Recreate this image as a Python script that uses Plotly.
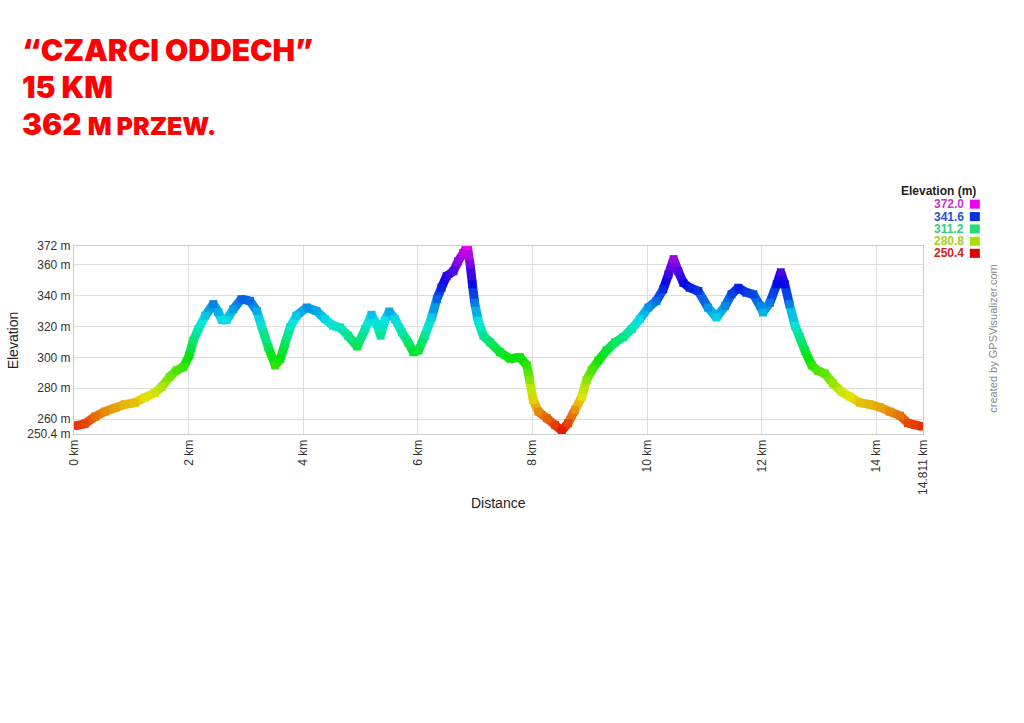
import colorsys
import plotly.graph_objects as go

# ---------------- data ----------------
dist_km = [0.02, 0.19, 0.37, 0.54, 0.72, 0.89, 1.06, 1.24, 1.41, 1.53, 1.67, 1.79, 1.91, 2.01,
           2.08, 2.17, 2.29, 2.43, 2.52, 2.58, 2.66, 2.78, 2.92, 3.07, 3.19, 3.27, 3.39, 3.51,
           3.60, 3.68, 3.77, 3.88, 4.06, 4.23, 4.38, 4.52, 4.64, 4.78, 4.94, 5.08, 5.19, 5.28,
           5.35, 5.42, 5.50, 5.60, 5.72, 5.83, 5.92, 6.01, 6.12, 6.24, 6.33, 6.41, 6.50, 6.62,
           6.70, 6.79, 6.86, 6.91, 6.95, 6.99, 7.05, 7.14, 7.26, 7.43, 7.61, 7.78, 7.90, 7.95,
           8.01, 8.10, 8.25, 8.39, 8.51, 8.62, 8.74, 8.86, 8.94, 9.03, 9.15, 9.29, 9.44, 9.58,
           9.73, 9.87, 10.02, 10.16, 10.28, 10.37, 10.46, 10.54, 10.63, 10.74, 10.89, 11.06,
           11.21, 11.36, 11.47, 11.59, 11.73, 11.85, 11.97, 12.02, 12.14, 12.26, 12.33, 12.40,
           12.48, 12.58, 12.66, 12.75, 12.87, 12.98, 13.10, 13.24, 13.39, 13.54, 13.71, 13.88,
           14.06, 14.23, 14.41, 14.55, 14.67, 14.79]
elev_m = [255.7, 257.0, 261.7, 264.9, 267.4, 269.6, 270.6, 274.1, 277.0, 280.9, 287.3, 291.6, 293.7, 301.2,
          310.8, 318.3, 326.9, 334.4, 329.0, 324.1, 324.1, 331.2, 337.6, 336.5, 330.0, 320.4, 306.5, 294.8,
          299.0, 308.7, 319.4, 326.9, 332.2, 330.0, 324.7, 320.4, 319.4, 314.0, 307.0, 318.3, 327.5, 321.5,
          314.0, 323.7, 329.6, 324.7, 316.2, 309.7, 303.3, 304.4, 314.0, 325.8, 337.6, 345.0, 352.5, 355.7,
          362.1, 367.4, 372.0, 360.0, 347.2, 335.4, 323.7, 314.0, 309.7, 303.3, 299.1, 300.1, 294.8, 285.2,
          272.4, 264.9, 260.6, 256.3, 252.7, 257.4, 266.0, 274.5, 285.2, 291.6, 298.0, 304.4, 309.7, 313.0,
          318.3, 324.7, 332.2, 336.5, 344.0, 353.6, 363.5, 355.7, 348.2, 345.0, 342.9, 332.2,
          325.8, 333.3, 340.8, 345.0, 341.8, 340.8, 333.3, 329.0, 335.4, 347.2, 355.0, 347.2,
          334.4, 320.4, 313.0, 304.4, 294.8, 291.2, 289.5, 283.1, 277.7, 274.5, 270.6, 269.6,
          267.7, 264.9, 262.3, 257.4, 256.3, 255.3]

x_tick_vals = [0, 2, 4, 6, 8, 10, 12, 14, 14.811]
x_tick_text = ["0 km", "2 km", "4 km", "6 km", "8 km", "10 km", "12 km", "14 km", "14.811 km"]
y_tick_vals = [250.4, 260, 280, 300, 320, 340, 360, 372]
y_tick_text = ["250.4 m", "260 m", "280 m", "300 m", "320 m", "340 m", "360 m", "372 m"]
legend_vals = ["372.0", "341.6", "311.2", "280.8", "250.4"]
legend_text_colors = ["#cc33cc", "#2255cc", "#33cc77", "#aacc22", "#cc2222"]
legend_box_colors = ["#ee00ee", "#0033dd", "#22dd77", "#aadd00", "#dd0000"]

E_MIN, E_MAX = 250.4, 372.0
D_MAX = 14.811


def elev_color(e):
    t = max(0.0, min(1.0, (e - E_MIN) / (E_MAX - E_MIN)))
    r, g, b = colorsys.hsv_to_rgb(t * 300.0 / 360.0, 0.97, 0.9)
    return "rgb(%d,%d,%d)" % (int(r * 255), int(g * 255), int(b * 255))


# pixel geometry of the plot area
X0, X1, Y0, Y1 = 74.0, 922.7, 433.3, 246.0
W, H = 1024, 723


def px(x):
    return (x - X0) / (X1 - X0)


def py(y):
    return (Y0 - y) / (Y0 - Y1)


fig = go.Figure()

for i in range(len(dist_km) - 1):
    fig.add_trace(go.Scatter(
        x=[dist_km[i], dist_km[i + 1]], y=[elev_m[i], elev_m[i + 1]],
        mode="lines", line=dict(color=elev_color((elev_m[i] + elev_m[i + 1]) / 2), width=9),
        hoverinfo="skip", showlegend=False))

fig.add_trace(go.Scatter(
    x=dist_km, y=elev_m, mode="markers",
    marker=dict(symbol="square", size=8, color=[elev_color(e) for e in elev_m], line=dict(width=0)),
    hoverinfo="skip", showlegend=False))

axis_font = dict(family="Liberation Sans, Arial, sans-serif", size=12, color="#333333")

fig.update_xaxes(range=[0, D_MAX], tickvals=x_tick_vals, ticktext=x_tick_text, tickangle=-90,
                 showgrid=True, gridcolor="#dddddd", gridwidth=1, zeroline=False,
                 showline=True, linecolor="#cccccc", linewidth=1, mirror=True,
                 tickfont=axis_font, ticks="", fixedrange=True)
fig.update_yaxes(range=[E_MIN, E_MAX], tickvals=y_tick_vals, ticktext=y_tick_text,
                 showgrid=True, gridcolor="#dddddd", gridwidth=1, zeroline=False,
                 showline=True, linecolor="#cccccc", linewidth=1, mirror=True,
                 tickfont=axis_font, ticks="", fixedrange=True)

annotations = []
title_font = dict(family="Inter, DejaVu Sans, sans-serif", size=30, color="#ff0000", weight=900)
annotations.append(dict(text="\u201cCZARCI ODDECH\u201d", x=px(20), y=py(51), xref="paper", yref="paper",
                        xanchor="left", yanchor="middle", showarrow=False, font=title_font))
annotations.append(dict(text="15 KM", x=px(20), y=py(87.5), xref="paper", yref="paper",
                        xanchor="left", yanchor="middle", showarrow=False, font=title_font))
annotations.append(dict(text="362 <span style=\"font-size:25px\">M PRZEW.</span>", x=px(20), y=py(124),
                        xref="paper", yref="paper", xanchor="left", yanchor="middle", showarrow=False,
                        font=title_font))

annotations.append(dict(text="Elevation", x=px(13), y=py(340), xref="paper", yref="paper", textangle=-90,
                        xanchor="center", yanchor="middle", showarrow=False,
                        font=dict(family="Liberation Sans, Arial, sans-serif", size=14, color="#222222")))
annotations.append(dict(text="Distance", x=px(498), y=py(502), xref="paper", yref="paper",
                        xanchor="center", yanchor="middle", showarrow=False,
                        font=dict(family="Liberation Sans, Arial, sans-serif", size=14, color="#222222")))
annotations.append(dict(text="created by GPSVisualizer.com", x=px(993), y=py(338), xref="paper", yref="paper",
                        textangle=-90, xanchor="center", yanchor="middle", showarrow=False,
                        font=dict(family="Liberation Sans, Arial, sans-serif", size=11, color="#888888")))
annotations.append(dict(text="<b>Elevation (m)</b>", x=px(978), y=py(191), xref="paper", yref="paper",
                        xanchor="right", yanchor="middle", showarrow=False,
                        font=dict(family="Liberation Sans, Arial, sans-serif", size=12, color="#222222")))

shapes = []
row_y = [204.3, 216.7, 229.0, 241.3, 253.3]
for v, tc, bc, yy in zip(legend_vals, legend_text_colors, legend_box_colors, row_y):
    annotations.append(dict(text="<b>%s</b>" % v, x=px(966), y=py(yy), xref="paper", yref="paper",
                            xanchor="right", yanchor="middle", showarrow=False,
                            font=dict(family="Liberation Sans, Arial, sans-serif", size=12, color=tc)))
    shapes.append(dict(type="rect", xref="paper", yref="paper", x0=px(969.5), x1=px(979.5),
                       y0=py(yy + 4.5), y1=py(yy - 4.5), fillcolor=bc, line=dict(width=0)))

fig.update_layout(width=W, height=H, autosize=False,
                  margin=dict(l=int(X0), r=int(W - X1), t=int(Y1), b=int(H - Y0), pad=0),
                  paper_bgcolor="white", plot_bgcolor="white",
                  annotations=annotations, shapes=shapes, showlegend=False)

fig.write_html("out.html", config={"displayModeBar": False},
               post_script="document.body.style.margin='0px';document.body.style.overflow='hidden';")
